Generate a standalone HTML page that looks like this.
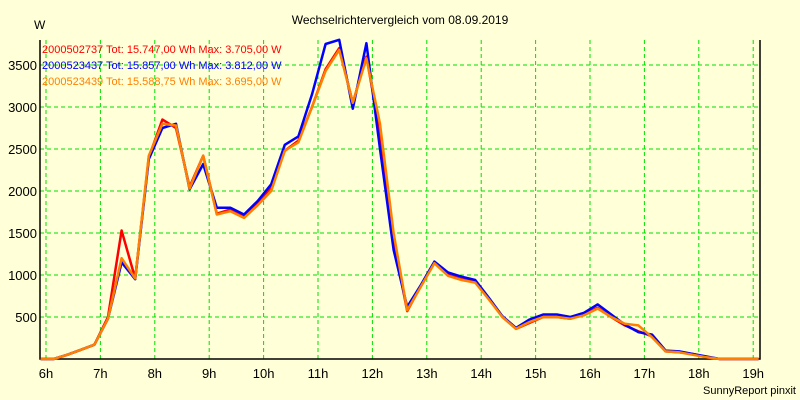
<!DOCTYPE html>
<html><head><meta charset="utf-8"><style>
body{margin:0;background:#ffffd8;}
svg{display:block;font-family:"Liberation Sans",sans-serif;}
</style></head><body>
<svg id="chart" width="800" height="400" viewBox="0 0 800 400">
<rect x="0" y="0" width="800" height="400" fill="#ffffd8"/>
<text x="400" y="24" text-anchor="middle" font-size="12" fill="#000">Wechselrichtervergleich vom 08.09.2019</text>
<text x="34" y="29" font-size="12" fill="#000">W</text>
<text x="796" y="394" text-anchor="end" font-size="11" fill="#000">SunnyReport pinxit</text>
<g id="grid"></g><g id="axes"></g><g id="series"></g><g id="legend"></g>
</svg>
<script>
const times=[5.9,6.02,6.14,6.39,6.64,6.89,7.14,7.39,7.64,7.89,8.14,8.39,8.64,8.89,9.14,9.39,9.64,9.89,10.14,10.39,10.64,10.89,11.14,11.39,11.64,11.89,12.14,12.39,12.64,12.89,13.14,13.39,13.64,13.89,14.14,14.39,14.64,14.89,15.14,15.39,15.64,15.89,16.14,16.39,16.64,16.89,17.14,17.39,17.64,17.89,18.14,18.39,19.1];
const redVals=[0,0,0,50,110,170,500,1530,960,2400,2850,2750,2050,2420,1730,1780,1690,1850,2050,2480,2600,3000,3450,3700,3050,3600,2700,1400,570,870,1150,1000,950,920,720,500,360,430,500,500,480,530,610,500,400,330,270,90,80,60,20,0,0];
const blueVals=[0,0,0,50,110,170,480,1150,950,2380,2750,2800,2020,2320,1800,1800,1720,1880,2080,2550,2650,3150,3750,3800,2980,3760,2500,1300,620,880,1160,1030,980,940,730,510,370,470,530,530,500,550,650,530,410,320,290,100,90,60,30,0,0];
const orangeVals=[0,0,0,50,110,170,480,1200,960,2420,2800,2780,2030,2420,1720,1760,1680,1830,2000,2480,2580,3000,3430,3680,3050,3580,2800,1500,580,860,1140,990,940,910,710,500,360,440,500,500,480,520,600,500,420,400,260,90,80,50,20,0,0];
const xTicks=[6,7,8,9,10,11,12,13,14,15,16,17,18,19];
const yTicks=[500,1000,1500,2000,2500,3000,3500];
const legendLabels=["2000502737 Tot: 15.747,00 Wh Max: 3.705,00 W","2000523437 Tot: 15.857,00 Wh Max: 3.812,00 W","2000523439 Tot: 15.588,75 Wh Max: 3.695,00 W"];
const NS="http://www.w3.org/2000/svg";
const L=40,T=40,R=760,B=359;
const xs=h=>Math.min(R,Math.max(L,46+(h-6)*54.4));
const ys=v=>B-v*0.084;
function mk(tag,attrs,parent){const e=document.createElementNS(NS,tag);for(const k in attrs)e.setAttribute(k,attrs[k]);parent.appendChild(e);return e;}
const grid=document.getElementById('grid'),axes=document.getElementById('axes'),series=document.getElementById('series'),legend=document.getElementById('legend');
xTicks.forEach(h=>{
  const l=mk('line',{x1:xs(h),x2:xs(h),y1:T,y2:B,stroke:'#00e000','stroke-dasharray':'4,3'},grid);
  
  
  const t=mk('text',{x:xs(h),y:B+19,'text-anchor':'middle','font-size':'13',fill:'#000'},axes);
  t.textContent=h+'h';
  
  
});
yTicks.forEach(v=>{
  const l=mk('line',{x1:L,x2:R,y1:ys(v),y2:ys(v),stroke:'#00e000','stroke-dasharray':'4,3'},grid);
  
  
  const t=mk('text',{x:L-3,y:ys(v)+5,'text-anchor':'end','font-size':'13',fill:'#000'},axes);
  t.textContent=v;
  
  
});
const ax=mk('path',{d:`M${L},${T}V${B}H${R}V${T}`,fill:'none',stroke:'#000','stroke-width':1.5},axes);


const sets=[[redVals,'#ff0000','series-2000502737'],[blueVals,'#0000ff','series-2000523437'],[orangeVals,'#ff8000','series-2000523439']];
sets.forEach(([vals,c,n])=>{
  const d=vals.map((v,i)=>(i?'L':'M')+xs(times[i]).toFixed(1)+','+ys(v).toFixed(1)).join('');
  const p=mk('path',{d:d,fill:'none',stroke:c,'stroke-width':2.5,'stroke-linejoin':'round'},series);
  
  
});
const lc=['#ff0000','#0000ff','#ff8000'];
legendLabels.forEach((s,i)=>{
  const t=mk('text',{x:42,y:53+i*16,'font-size':'11',fill:lc[i]},legend);
  t.textContent=s;
  
  
});
</script>
</body></html>
